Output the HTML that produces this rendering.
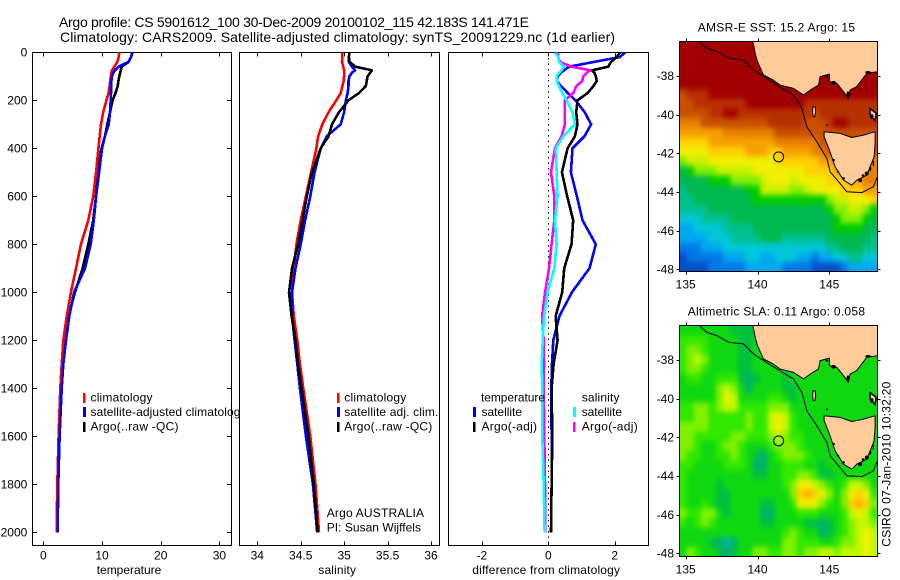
<!DOCTYPE html>
<html lang="en">
<head>
<meta charset="utf-8">
<title>Argo profile CS 5901612_100</title>
<style>
html,body{margin:0;padding:0;background:#fff;width:900px;height:580px;overflow:hidden}
svg{display:block}
text{font-family:"Liberation Sans",sans-serif;fill:#000;font-size:12px}
.t{font-size:14px}
</style>
</head>
<body>
<svg id="figure" width="900" height="580" viewBox="0 0 900 580">
<defs>
<filter id="cell-soften" filterUnits="userSpaceOnUse" x="660" y="20" width="240" height="560" color-interpolation-filters="sRGB"><feGaussianBlur stdDeviation="2.4 3"/></filter>
</defs>
<rect width="900" height="580" fill="#fff"/>
<text class="t" x="59" y="27" textLength="470" lengthAdjust="spacing">Argo profile: CS 5901612_100 30-Dec-2009 20100102_115 42.183S 141.471E</text>
<text class="t" x="60" y="42" textLength="555" lengthAdjust="spacing">Climatology: CARS2009. Satellite-adjusted climatology: synTS_20091229.nc (1d earlier)</text>

<g id="temp-panel">
<rect x="32.5" y="52.5" width="199" height="493" fill="#fff" stroke="#000" shape-rendering="crispEdges"/>
<g id="temp-axes"></g>
<g id="temp-lines"></g>
<text x="96.7" y="574" textLength="64.6" lengthAdjust="spacing">temperature</text>
<rect x="83" y="393" width="2.5" height="10" fill="#f00" shape-rendering="crispEdges"/>
<rect x="83" y="407" width="3" height="10" fill="#00f" shape-rendering="crispEdges"/>
<rect x="83" y="422" width="2.5" height="10" fill="#000" shape-rendering="crispEdges"/>
<text x="90.5" y="401.7" textLength="62" lengthAdjust="spacing">climatology</text>
<text x="90.5" y="416" textLength="156" lengthAdjust="spacing">satellite-adjusted climatology</text>
<text x="90.5" y="430.7" textLength="88" lengthAdjust="spacing">Argo(..raw -QC)</text>
</g>

<g id="sal-panel">
<rect x="239.5" y="52.5" width="200" height="493" fill="#fff" stroke="#000" shape-rendering="crispEdges"/>
<g id="sal-axes"></g>
<g id="sal-lines"></g>
<text x="318.3" y="574" textLength="37.7" lengthAdjust="spacing">salinity</text>
<rect x="337" y="393" width="2.5" height="10" fill="#f00" shape-rendering="crispEdges"/>
<rect x="337" y="407" width="3" height="10" fill="#00f" shape-rendering="crispEdges"/>
<rect x="337" y="422" width="2.5" height="10" fill="#000" shape-rendering="crispEdges"/>
<text x="344.3" y="401.7" textLength="62" lengthAdjust="spacing">climatology</text>
<text x="344.3" y="416" textLength="94" lengthAdjust="spacing">satellite adj. clim.</text>
<text x="344.3" y="430.7" textLength="88" lengthAdjust="spacing">Argo(..raw -QC)</text>
<text x="326.7" y="517" textLength="97.3" lengthAdjust="spacing">Argo AUSTRALIA</text>
<text x="326.7" y="531.7" textLength="94.3" lengthAdjust="spacing">PI: Susan Wijffels</text>
</g>

<g id="diff-panel">
<rect x="448.5" y="52.5" width="200" height="493" fill="#fff" stroke="#000" shape-rendering="crispEdges"/>
<g id="diff-axes"></g>
<g id="diff-lines"></g>
<text x="472.3" y="574" textLength="147.7" lengthAdjust="spacing">difference from climatology</text>
<text x="481" y="401.7" textLength="64" lengthAdjust="spacing">temperature</text>
<text x="481.5" y="416" textLength="40.5" lengthAdjust="spacing">satellite</text>
<text x="481.5" y="430.7" textLength="55.5" lengthAdjust="spacing">Argo(-adj)</text>
<rect x="473" y="407" width="3" height="10" fill="#00f" shape-rendering="crispEdges"/>
<rect x="473" y="422" width="2.5" height="10" fill="#000" shape-rendering="crispEdges"/>
<text x="581.7" y="401.7" textLength="37.8" lengthAdjust="spacing">salinity</text>
<text x="581.7" y="416" textLength="40.3" lengthAdjust="spacing">satellite</text>
<text x="581.7" y="430.7" textLength="56" lengthAdjust="spacing">Argo(-adj)</text>
<rect x="573" y="407" width="3" height="10" fill="#0ff" shape-rendering="crispEdges"/>
<rect x="573" y="422" width="2.5" height="10" fill="#f0f" shape-rendering="crispEdges"/>
</g>

<g id="sst-map"></g>
<g id="sla-map"></g>
<text x="697.7" y="31.7" textLength="157.3" lengthAdjust="spacing">AMSR-E SST: 15.2 Argo: 15</text>
<text x="687.7" y="315.7" textLength="177.3" lengthAdjust="spacing">Altimetric SLA: 0.11 Argo: 0.058</text>
<text transform="translate(890.7 546.7) rotate(-90)" x="0" y="0" textLength="165" lengthAdjust="spacing">CSIRO 07-Jan-2010 10:32:20</text>
</svg>

<script>
// ---- profile data ----
const depthLevels = [0,20,40,60,75,85,100,120,140,170,200,250,300,350,400,500,600,700,800,900,1000,1100,1200,1300,1400,1600,1800,2000];
const depthTicks = [0,200,400,600,800,1000,1200,1400,1600,1800,2000];

const tempTicks = [0,10,20,30];
const tempClimatology = [12.95,12.84,12.6,12.1,11.7,11.6,11.5,11.4,11.3,11.1,10.75,10.2,9.83,9.6,9.38,9.0,8.5,7.67,6.4,5.57,4.7,3.98,3.41,3.13,2.9,2.6,2.39,2.27];
const tempArgo = [15.17,14.95,14.55,13.35,13.2,13.1,12.95,12.8,12.7,12.3,11.8,11.36,10.9,10.5,9.94,9.2,8.98,8.5,7.67,6.7,5.4,4.26,3.7,3.4,3.07,2.67,2.44,2.39];
const tempSatellite = [15.2,14.95,14.5,12.85,12.2,11.93,11.7,11.6,11.53,11.53,11.48,11.36,11.14,10.5,10,9.5,9,8.6,8.07,7.1,5.23,4.43,3.86,3.4,3.13,2.78,2.56,2.44];

const salTicks = [34,34.5,35,35.5,36];
const salClimatology = [34.98,34.98,34.975,34.99,35.0,35.0,35.0,34.995,34.98,34.96,34.91,34.82,34.75,34.70,34.68,34.62,34.56,34.5,34.45,34.42,34.40,34.42,34.46,34.49,34.53,34.61,34.67,34.71];
const salArgo = [35.06,35.055,35.06,35.13,35.32,35.30,35.27,35.26,35.25,35.17,35.05,34.94,34.86,34.82,34.73,34.63,34.57,34.52,34.47,34.40,34.365,34.395,34.44,34.47,34.51,34.59,34.65,34.695];
const salSatellite = [35.06,35.055,35.055,35.09,35.125,35.09,35.06,35.05,35.05,35.04,35.02,35.0,34.96,34.8,34.73,34.66,34.61,34.55,34.5,34.44,34.40,34.40,34.43,34.46,34.49,34.56,34.64,34.69];

const diffTicks = [-2,0,2];
const diffTempSatellite = [2.31,2.16,1.38,0.62,0.48,0.38,0.28,0.25,0.38,0.59,0.82,1.1,1.29,1.09,0.73,0.68,0.86,1.03,1.43,1.24,0.71,0.33,0.15,0.11,0.09,0.1,0.1,0.08];
const diffTempArgo = [2.16,2.06,1.89,1.8,1.31,1.39,1.43,1.46,1.36,1.18,0.88,0.84,0.88,0.8,0.58,0.41,0.57,0.75,0.7,0.48,0.42,0.22,0.28,0.16,0.1,0.12,0.1,0.08];
const diffSalArgo = [0.28,0.3,0.35,0.7,1.26,1.16,1.05,1.02,0.85,0.75,0.5,0.5,0.5,0.4,0.2,0.08,0.18,0.18,0.1,0.02,-0.1,-0.19,-0.14,-0.13,-0.14,-0.12,-0.1,-0.1];
const diffSalSatellite = [0.2,0.3,0.32,0.48,0.4,0.33,0.25,0.25,0.32,0.42,0.55,0.73,0.8,0.45,0.23,0.25,0.28,0.2,0.25,0.18,-0.02,-0.13,-0.17,-0.2,-0.18,-0.18,-0.14,-0.11];

// ---- map data (colour-level per 0.5 degree cell, north to south) ----
const mapLonTicks = [135,140,145];
const mapLatTicks = [-38,-40,-42,-44,-46,-48];
const sstColors = ['#0050c8','#0078e8','#00a8f0','#00c8d8','#00c090','#00b850','#00cc00','#80f000','#c8f000','#f0f000','#ffd000','#f8a000','#e88000','#c85000','#b83000','#a00000'];
const slaColors = ['#00b8a0','#00b070','#00c040','#10d810','#30e800','#80f000','#c0f800','#f0f000','#ffd000','#ffb000'];
const sstCells = [
[15,15,15,15,15,15,15,15,15,15,15,15,15,15,15,15,15,15,15,15,15,15,15,15,15,15,15],
[15,15,15,15,15,15,15,15,15,15,15,15,15,15,15,15,15,15,15,15,15,15,15,15,15,15,15],
[15,15,15,15,15,15,15,15,15,15,15,15,15,15,15,15,15,15,15,15,15,15,15,15,15,15,15],
[15,15,15,15,15,15,15,15,15,15,15,15,15,15,15,15,15,15,15,15,15,15,15,15,15,15,15],
[15,15,15,15,15,15,15,15,15,15,15,15,15,15,15,15,15,15,15,15,15,15,15,15,15,15,15],
[13,14,14,14,15,15,15,15,15,15,15,15,15,15,15,15,15,15,15,15,15,15,15,15,15,15,15],
[13,13,14,14,14,14,14,14,14,15,15,15,15,15,15,15,15,14,14,14,14,14,14,14,14,14,14],
[13,13,13,13,14,14,15,15,14,14,14,14,14,14,14,14,14,14,13,14,14,14,14,14,14,14,14],
[12,12,12,13,13,13,13,13,13,13,13,13,14,14,14,14,14,13,13,13,14,15,15,14,14,14,14],
[11,11,11,11,11,11,12,12,12,12,12,12,12,13,13,13,13,13,13,13,13,13,13,13,13,13,13],
[10,10,10,10,11,11,11,11,11,11,11,11,11,12,12,12,12,12,12,13,13,13,13,13,13,13,13],
[9,9,9,9,10,10,10,10,10,11,11,11,10,10,11,11,11,11,12,12,13,13,13,13,13,13,13],
[7,8,8,8,9,9,9,9,9,9,9,9,9,10,10,10,10,10,10,11,11,12,12,12,12,12,12],
[5,6,7,7,7,8,8,8,8,8,9,9,9,9,9,9,9,10,10,10,10,11,12,12,12,12,12],
[5,5,5,5,6,6,6,7,7,7,7,8,9,9,9,8,9,9,9,9,10,10,10,11,11,12,12],
[4,5,5,5,5,5,5,5,5,6,6,8,8,8,8,7,7,8,9,9,9,9,10,10,10,11,11],
[4,4,5,5,5,5,5,5,5,5,6,6,6,6,6,6,6,6,6,6,7,8,8,9,9,9,10],
[4,4,4,4,5,5,5,5,5,5,5,5,5,5,5,5,5,5,5,5,6,7,7,8,8,7,6],
[3,3,3,4,4,4,4,5,5,5,5,5,5,5,5,5,5,5,5,5,5,6,7,7,7,6,5],
[2,2,3,3,3,3,4,4,4,4,5,5,5,5,5,5,5,5,5,5,5,6,6,6,6,5,5],
[2,2,2,2,3,3,3,4,4,4,4,5,5,5,4,4,4,4,4,4,5,5,5,5,5,5,4],
[1,1,1,2,2,2,3,3,3,3,3,3,3,3,3,3,3,3,3,3,4,4,5,5,5,4,4],
[0,1,1,1,1,1,2,2,2,3,3,2,2,3,3,3,2,2,1,2,2,3,3,4,4,3,3],
[0,0,0,0,1,1,1,1,1,2,2,2,2,2,1,1,1,1,0,0,0,0,1,2,2,2,2]
];
const slaCells = [
[3,3,3,3,3,3,3,2,2,2,2,3,3,3,3,3,3,3,3,3,3,3,3,3,3,3,3],
[4,4,4,4,3,3,3,3,2,2,3,3,3,3,3,3,3,3,3,3,3,3,3,3,3,3,3],
[4,5,5,4,3,3,3,3,2,2,3,3,3,3,3,3,3,3,3,3,3,3,3,3,3,3,3],
[4,5,6,5,3,3,3,3,2,2,3,3,3,3,3,3,3,3,3,3,3,3,3,3,3,3,3],
[4,5,5,4,3,3,3,3,2,2,3,3,3,3,3,3,3,3,3,3,3,3,3,3,3,3,3],
[3,4,4,3,3,4,4,4,2,1,2,3,3,3,2,3,3,3,3,3,3,3,3,3,3,3,3],
[3,3,3,3,3,5,6,5,3,1,3,3,3,3,2,2,3,3,3,3,3,3,3,3,3,3,3],
[3,3,3,3,3,5,7,6,3,3,3,3,4,4,3,2,3,3,3,3,3,3,3,3,3,3,3],
[4,4,5,5,4,5,6,6,4,4,4,4,5,5,5,3,3,3,3,3,3,3,3,3,3,3,3],
[4,4,5,5,4,4,4,4,4,5,4,4,6,7,6,4,3,3,3,3,3,3,3,3,3,3,3],
[5,5,5,5,4,4,4,4,4,5,4,4,6,7,6,4,3,3,3,3,3,3,3,3,3,3,3],
[5,5,4,4,4,4,4,5,5,4,4,4,5,6,5,4,4,3,3,3,3,3,3,3,3,3,3],
[5,5,4,3,3,4,5,5,4,3,3,3,4,5,5,5,4,3,3,3,3,3,3,3,3,3,3],
[5,4,4,3,3,4,4,5,4,3,2,1,3,4,5,5,5,4,3,3,3,3,3,3,3,3,3],
[4,4,3,3,3,3,4,4,4,3,1,1,3,3,4,4,4,3,3,2,3,3,3,3,3,3,3],
[4,3,3,3,3,3,3,3,3,3,2,2,3,3,4,4,5,5,4,2,2,3,3,3,3,3,3],
[4,3,3,3,3,2,3,3,3,3,3,3,3,3,4,5,7,7,6,5,4,3,4,6,6,5,3],
[4,3,3,3,3,2,2,3,3,3,3,3,3,3,3,5,8,9,8,7,5,3,5,7,8,7,4],
[4,3,3,4,3,2,2,3,3,3,3,2,2,3,3,4,7,7,7,5,4,3,5,8,9,8,5],
[5,4,4,5,5,3,2,3,3,3,3,1,1,3,3,3,4,4,4,3,3,3,4,6,7,6,4],
[4,3,4,5,4,3,3,3,3,3,3,2,2,3,3,3,3,2,2,1,2,3,4,5,6,6,5],
[3,3,3,3,3,3,3,3,3,3,3,3,3,3,4,5,4,3,3,1,2,3,4,5,6,7,6],
[3,3,3,3,2,1,0,1,3,3,3,3,3,3,5,5,4,4,4,3,3,4,5,5,6,7,6],
[3,5,4,3,3,2,1,2,3,3,5,5,4,4,5,5,4,5,5,6,6,5,6,6,6,7,6]
];
const mainlandCoast = [[139.68,-36.1],[139.68,-36.22],[139.84,-36.83],[140.0,-37.26],[140.42,-37.95],[141.11,-38.21],[141.58,-38.47],[142.51,-38.64],[143.2,-38.98],[143.67,-38.73],[144.25,-38.47],[144.36,-38.03],[145.01,-37.9],[145.01,-38.29],[145.52,-38.38],[145.99,-38.81],[146.33,-39.16],[146.45,-38.73],[146.91,-38.55],[147.61,-37.86],[148.35,-37.78],[148.5,-37.78],[148.5,-36.1]];
const tasmaniaCoast = [[144.64,-40.88],[145.75,-40.97],[146.57,-41.18],[147.38,-41.06],[148.19,-40.88],[148.19,-41.49],[148.12,-42.18],[147.84,-42.70],[147.61,-43.13],[146.91,-43.39],[146.57,-43.65],[145.99,-43.39],[145.41,-42.70],[145.01,-41.83],[144.64,-41.14]];
const kingIsland = [[143.86,-39.6],[144.02,-39.6],[144.05,-39.85],[143.98,-40.1],[143.88,-40.1],[143.84,-39.85]];
const flindersIsland = [[147.84,-39.68],[148.26,-39.93],[148.19,-40.31],[147.84,-40.02]];
const isobath = [[135.96,-36.22],[136.47,-36.57],[137.17,-36.74],[137.98,-37.08],[139.03,-37.17],[139.72,-37.69],[140.42,-38.03],[141.35,-38.47],[142.51,-38.98],[143.09,-39.68],[143.43,-40.63],[144.13,-41.40],[144.83,-42.27],[145.06,-42.96],[145.75,-43.56],[146.22,-43.99],[147.26,-44.03],[148.07,-43.73],[148.35,-43.22]];
const coastBlobs = [[145.29,-38.35,0.17,0.1],[144.83,-38.03,0.1,0.05],[146.3,-38.95,0.1,0.16],[144.83,-40.54,0.06,0.05],[145.29,-42.35,0.1,0.06],[145.6,-42.95,0.08,0.05],[145.99,-43.3,0.1,0.06],[147.15,-43.39,0.14,0.1],[147.35,-43.15,0.1,0.07],[147.61,-43.04,0.14,0.1],[147.85,-42.8,0.08,0.1],[148.07,-42.53,0.05,0.14],[147.96,-40.1,0.12,0.12],[147.7,-37.8,0.2,0.06]];
const argoPosition = [141.471,-42.183];
const lonRange = [134.55,148.34];

// ---- axis functions ----
const yDepth = d => 52.3 + 0.24 * d;
const xTemp = v => 43.3 + 5.87 * v;
const xSal = v => 257.3 + 86.85 * (v - 34);
const xDiff = v => 548.3 + 33.2 * v;
const xLon = lon => 685.7 + 14.36 * (lon - 135);
const ySst = lat => 76 + 19.33 * (-38 - lat);
const ySla = lat => 360 + 19.33 * (-38 - lat);

const NS = 'http://www.w3.org/2000/svg';
function make(parent, tag, attrs) {
  const el = document.createElementNS(NS, tag);
  for (const k in attrs) el.setAttribute(k, attrs[k]);
  parent.appendChild(el);
  return el;
}
function seg(parent, x1, y1, x2, y2) {
  return make(parent, 'line', {x1, y1, x2, y2, stroke:'#000', 'stroke-width':1, 'shape-rendering':'crispEdges'});
}
function label(parent, x, y, anchor, str) {
  const el = make(parent, 'text', {x, y, 'text-anchor':anchor});
  el.textContent = str;
  return el;
}
function profile(parent, xFn, values, color, width) {
  const pts = values.map((v, i) => xFn(v).toFixed(1) + ',' + yDepth(depthLevels[i]).toFixed(1)).join(' ');
  return make(parent, 'polyline', {points:pts, fill:'none', stroke:color, 'stroke-width':width, 'stroke-linejoin':'round', 'shape-rendering':'crispEdges'});
}

// ---- profile axes ----
function xAxis(parent, ticks, xFn, top, bottom) {
  ticks.forEach(t => {
    const x = Math.round(xFn(t)) + 0.5;
    const a = seg(parent, x, top, x, top + 4);
    
    
    const b = seg(parent, x, bottom - 4, x, bottom);
    
    
    const l = label(parent, xFn(t), 559.3, 'middle', String(t));
    
    
  });
}
const tempAxes = document.getElementById('temp-axes');
const salAxes = document.getElementById('sal-axes');
const diffAxes = document.getElementById('diff-axes');
xAxis(tempAxes, tempTicks, xTemp, 52.5, 545.5);
xAxis(salAxes, salTicks, xSal, 52.5, 545.5);
xAxis(diffAxes, diffTicks, xDiff, 52.5, 545.5);
depthTicks.forEach(d => {
  const y = Math.round(yDepth(d)) + 0.5;
  const a = seg(tempAxes, 32.5, y, 37, y);
  
  
  const b = seg(tempAxes, 227, y, 231.5, y);
  
  
  const l = label(tempAxes, 27.3, yDepth(d) + 4.3, 'end', String(d));
  
  
});

// ---- profile lines ----
const lineWidth = 2.6;
const tempLines = document.getElementById('temp-lines');
const l1 = profile(tempLines, xTemp, tempArgo, '#000', lineWidth);


const l2 = profile(tempLines, xTemp, tempClimatology, '#f00', lineWidth);


const l3 = profile(tempLines, xTemp, tempSatellite, '#00f', lineWidth);



const salLines = document.getElementById('sal-lines');
const s1 = profile(salLines, xSal, salClimatology, '#f00', lineWidth);


const s2 = profile(salLines, xSal, salSatellite, '#00f', lineWidth);


const s3 = profile(salLines, xSal, salArgo, '#000', lineWidth);



const diffLines = document.getElementById('diff-lines');
const clipDiff = make(document.getElementById('figure'), 'clipPath', {id:'diff-clip'});
make(clipDiff, 'rect', {x:448.5, y:52.5, width:200, height:493});
diffLines.setAttribute('clip-path', 'url(#diff-clip)');
const zero = seg(diffLines, 548.5, 52.5, 548.5, 545.5);
zero.setAttribute('stroke-dasharray', '1.5 4');


const d1 = profile(diffLines, xDiff, diffTempSatellite, '#00f', lineWidth);


const d2 = profile(diffLines, xDiff, diffTempArgo, '#000', lineWidth);


const d3 = profile(diffLines, xDiff, diffSalArgo, '#f0f', lineWidth);


const d4 = profile(diffLines, xDiff, diffSalSatellite, '#0ff', lineWidth);



// ---- maps ----
function drawMap(group, cells, colors, yLat, top, bottom, labelY, clipId) {
  const left = 679.5, right = 877.5, bleed = 10;
  const cols = cells[0].length;
  const lonStep = (lonRange[1] - lonRange[0]) / cols;
  const rowH = (bottom - top) / cells.length;
  const clip = make(document.getElementById('figure'), 'clipPath', {id:clipId});
  make(clip, 'rect', {x:left, y:top, width:right-left, height:bottom-top});
  const body = make(group, 'g', {'clip-path':'url(#' + clipId + ')'});
  
  
  const field = make(body, 'g', {filter:'url(#cell-soften)'});
  
  
  cells.forEach((row, j) => row.forEach((v, i) => {
    const x0 = xLon(lonRange[0] + i * lonStep) - (i === 0 ? bleed : 0);
    const x1 = xLon(lonRange[0] + (i + 1) * lonStep) + (i === cols - 1 ? bleed : 0);
    const y0 = top + j * rowH - (j === 0 ? bleed : 0);
    const y1 = top + (j + 1) * rowH + (j === cells.length - 1 ? bleed : 0);
    const c = make(field, 'rect', {x:x0.toFixed(2), y:y0.toFixed(2), width:(x1 - x0 + 0.4).toFixed(2), height:(y1 - y0 + 0.4).toFixed(2), fill:colors[v], 'shape-rendering':'crispEdges'});
    
    
  }));
  const toPts = arr => arr.map(p => xLon(p[0]).toFixed(1) + ',' + yLat(p[1]).toFixed(1)).join(' ');
  const bath = make(body, 'polyline', {points:toPts(isobath), fill:'none', stroke:'#000', 'stroke-width':1});
  
  
  const main = make(body, 'polygon', {points:toPts(mainlandCoast), fill:'#ffcc99', stroke:'#000', 'stroke-width':1, 'stroke-linejoin':'round'});
  
  
  const tas = make(body, 'polygon', {points:toPts(tasmaniaCoast), fill:'#ffcc99', stroke:'#000', 'stroke-width':1, 'stroke-linejoin':'round'});
  
  
  const king = make(body, 'polygon', {points:toPts(kingIsland), fill:'#ffcc99', stroke:'#000', 'stroke-width':1});
  
  
  const flin = make(body, 'polygon', {points:toPts(flindersIsland), fill:'#ffcc99', stroke:'#000', 'stroke-width':1.5});
  
  
  coastBlobs.forEach(b => {
    const e = make(body, 'ellipse', {cx:xLon(b[0]), cy:yLat(b[1]), rx:b[2] * 14.36, ry:b[3] * 19.33, fill:'#000'});
    
    
  });
  const marker = make(body, 'circle', {cx:xLon(argoPosition[0]), cy:yLat(argoPosition[1]), r:5, fill:'none', stroke:'#000', 'stroke-width':1});
  
  
  const frame = make(group, 'rect', {x:left, y:top, width:right-left, height:bottom-top, fill:'none', stroke:'#000', 'stroke-width':1, 'shape-rendering':'crispEdges'});
  
  
  mapLonTicks.forEach(t => {
    const x = Math.round(xLon(t)) + 0.5;
    const a = seg(group, x, top - 3, x, top);
    
    
    const b = seg(group, x, bottom, x, bottom + 3);
    
    
    const l = label(group, xLon(t), labelY, 'middle', String(t));
    
    
  });
  mapLatTicks.forEach(t => {
    const y = Math.round(yLat(t)) + 0.5;
    const a = seg(group, left - 3, y, left, y);
    
    
    const b = seg(group, right, y, right + 3, y);
    
    
    const l = label(group, 674, yLat(t) + 4.2, 'end', String(t));
    
    
  });
}
drawMap(document.getElementById('sst-map'), sstCells, sstColors, ySst, 41.5, 271.5, 288.3, 'sst-clip');
drawMap(document.getElementById('sla-map'), slaCells, slaColors, ySla, 325.5, 556.5, 573.3, 'sla-clip');
</script>
</body>
</html>
